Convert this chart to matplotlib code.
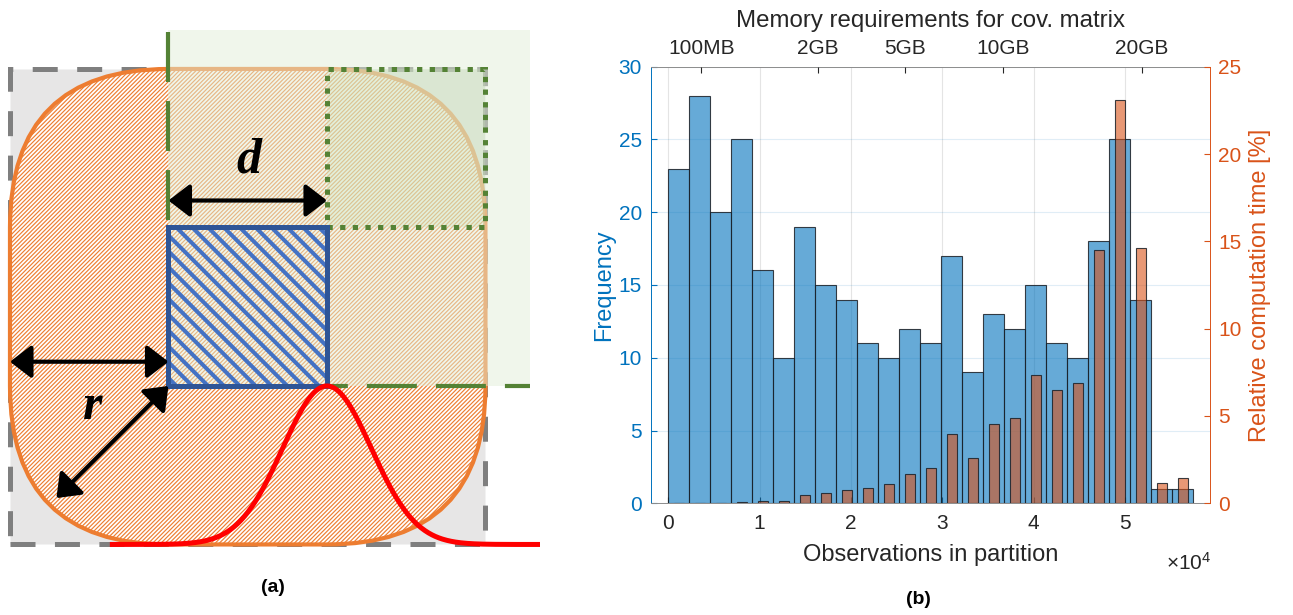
import numpy as np
import matplotlib.pyplot as plt
from matplotlib.patches import Rectangle, FancyBboxPatch

plt.rcParams['font.family'] = ['Liberation Sans', 'DejaVu Sans']
plt.rcParams['mathtext.fontset'] = 'custom'
plt.rcParams['mathtext.rm'] = 'Liberation Sans'
plt.rcParams['lines.scale_dashes'] = False
plt.rcParams['hatch.linewidth'] = 0.85

# ---- (b) histogram of partition sizes
bin_width = 2300
freq = [23, 28, 20, 25, 16, 10, 19, 15, 14, 11, 10, 12, 11,
        17, 9, 13, 12, 15, 11, 10, 18, 25, 14, 1, 1]
# share of total computation time per bin [%]
rel_time = [0, 0, 0.02, 0.08, 0.11, 0.11, 0.46, 0.57, 0.77, 0.86, 1.11, 1.70, 2.0,
            3.95, 2.58, 4.54, 4.89, 7.37, 6.49, 6.87, 14.49, 23.1, 14.64, 1.15, 1.43]
x_ticks = [0, 1, 2, 3, 4, 5]
mem_labels = ['100MB', '2GB', '5GB', '10GB', '20GB']
mem_bytes = [100 * 2**20, 2 * 2**30, 5 * 2**30, 10 * 2**30, 20 * 2**30]

# ---- (a) sketch: core square of side d, buffer radius r
d = 1.0
r = 1.0
sigma = 0.28

BLUE = '#0072BD'
ORANGE = '#D95319'

fig = plt.figure(figsize=(12.93, 6.15), dpi=100)

# ================= (a) =================
ax = fig.add_axes([0, 0, 540 / 1293, 1])
ax.set_xlim(-1.063, 2.344)
ax.set_ylim(-1.445, 2.435)
ax.axis('off')

# bounding box of the buffered area
ax.add_patch(Rectangle((-r, -r), d + 2 * r, d + 2 * r, fc='#E7E6E6', ec='#7F7F7F',
                       lw=3.6, ls=(0, (18, 14)), zorder=1))
# buffered area (square grown by r)
ax.add_patch(FancyBboxPatch((0, 0), d, d, boxstyle=f'round,pad={r},rounding_size={r}',
                            fc='white', ec='#ED7D31', hatch='////////', lw=3, zorder=2))
# quadrant already covered by neighbours
ax.add_patch(Rectangle((0, 0), 2.28, 2.246, fc='#E2EFD9', alpha=0.5, lw=0, zorder=3))
ax.add_patch(Rectangle((d, d), r, r, fc='#C5E0B4', alpha=0.3, lw=0, zorder=4))
ax.add_patch(Rectangle((d, d), r, r, fill=False, ec='#548235', lw=3.6,
                       ls=(0, (3.8, 5.3)), zorder=5))

# core square with thick blue stripes
core = Rectangle((0, 0), d, d, fill=False, lw=0, zorder=6)
ax.add_patch(core)
for c in np.arange(0.05, 2 * d, 0.1):
    ln, = ax.plot([c - d, c], [d, 0], color='#4472C4', lw=2.9, zorder=6,
                  solid_capstyle='butt')
    ln.set_clip_path(core)
ax.add_patch(Rectangle((0, 0), d, d, fill=False, ec='#2F5597', lw=3.6, zorder=7))

# partition borders
ax.plot([0, 0], [2.235, d], color='#548235', lw=3, ls=(0, (36, 13.7)), zorder=8)
ax.plot([d, 2.28], [0, 0], color='#548235', lw=3, ls=(21, (36, 13.7)), zorder=8)

# weighting kernel
xs = np.linspace(-0.37, 2.4, 500)
ax.plot(xs, -r + r * np.exp(-(xs - d) ** 2 / (2 * sigma ** 2)), color='red', lw=3.6,
        zorder=9, solid_capstyle='butt')

arrow = dict(arrowstyle='<|-|>,head_length=0.65,head_width=0.5', mutation_scale=20,
             lw=3, color='black', shrinkA=0, shrinkB=0)
ax.annotate('', xy=(d, 1.17), xytext=(0, 1.17), arrowprops=arrow, zorder=10)
ax.annotate('', xy=(0, 0.153), xytext=(-r, 0.153), arrowprops=arrow, zorder=10)
ax.annotate('', xy=(0, 0), xytext=(-r / np.sqrt(2), -r / np.sqrt(2)),
            arrowprops=arrow, zorder=10)
ax.text(0.51, 1.42, 'd', family='Liberation Serif', weight='bold', style='italic',
        fontsize=36, ha='center', va='center', zorder=11)
ax.text(-0.48, -0.13, 'r', family='Liberation Serif', weight='bold', style='italic',
        fontsize=36, ha='center', va='center', zorder=11)

fig.text(273 / 1293, 1 - 588 / 615, '(a)', weight='bold', fontsize=14,
         ha='center', va='center')

# ================= (b) =================
axb = fig.add_axes([651 / 1293, 1 - 503.3 / 615, 559 / 1293, 436.6 / 615])
edges = np.arange(len(freq) + 1) * bin_width
centers = edges[:-1] + bin_width / 2
edge_col = (0.1, 0.12, 0.15, 0.85)

axb.bar(edges[:-1], freq, width=bin_width, align='edge',
        facecolor=(0, 0.447, 0.741, 0.6), edgecolor=edge_col, lw=0.8, zorder=2)
axb.set_xlim(-1894, 59310)
axb.set_ylim(0, 30)
axb.set_yticks(range(0, 31, 5))
axb.set_xticks([t * 1e4 for t in x_ticks])
axb.set_xticklabels([str(t) for t in x_ticks])
axb.set_axisbelow(True)
axb.xaxis.grid(True, color='#262626', alpha=0.12, lw=0.8)
axb.yaxis.grid(True, color=BLUE, alpha=0.12, lw=0.8)

axb.tick_params(axis='x', direction='in', length=4, top=True, color='#262626',
                labelcolor='#262626', labelsize=15, pad=8)
axb.tick_params(axis='y', direction='in', length=4, color=BLUE, labelcolor=BLUE,
                labelsize=15, pad=6.5)
for s in ('top', 'bottom'):
    axb.spines[s].set_color('#8c8c8c')
    axb.spines[s].set_linewidth(0.7)
axb.spines['left'].set_color(BLUE)
axb.spines['left'].set_linewidth(0.7)
axb.spines['right'].set_visible(False)

axb.set_xlabel('Observations in partition', fontsize=17, color='#262626')
axb.xaxis.set_label_coords(0.5, -0.094)
axb.set_ylabel('Frequency', fontsize=17, color=BLUE)
axb.yaxis.set_label_coords(-0.064, 0.5)
axb.text(1.003, -0.137, r'$\times\mathregular{10^{4}}$', transform=axb.transAxes,
         fontsize=15, color='#262626', ha='right', va='center')

# computation time on the right axis
axr = axb.twinx()
axr.bar(centers, rel_time, width=bin_width / 2, facecolor=(0.85, 0.325, 0.098, 0.6),
        edgecolor=edge_col, lw=0.8, zorder=3)
axr.set_ylim(0, 25)
axr.set_yticks(range(0, 26, 5))
axr.tick_params(axis='y', direction='in', length=4, color=ORANGE, labelcolor=ORANGE,
                labelsize=15, pad=5.8)
for s in ('top', 'bottom', 'left'):
    axr.spines[s].set_visible(False)
axr.spines['right'].set_color(ORANGE)
axr.spines['right'].set_linewidth(0.7)
axr.set_ylabel('Relative computation time [%]', fontsize=17, color=ORANGE)
axr.yaxis.set_label_coords(1.07, 0.5)

# memory of an n x n double covariance matrix on the top axis
axm = axb.twiny()
axm.set_xlim(axb.get_xlim())
axm.set_xticks([np.sqrt(b / 8) for b in mem_bytes])
axm.set_xticklabels(mem_labels)
axm.tick_params(axis='x', direction='in', length=4, color='#262626',
                labelcolor='#262626', labelsize=15, pad=6)
for s in axm.spines.values():
    s.set_visible(False)
axm.set_xlabel('Memory requirements for cov. matrix', fontsize=17.3, color='#262626')
axm.xaxis.set_label_coords(0.5, 1.09)

fig.text(918 / 1293, 1 - 600 / 615, '(b)', weight='bold', fontsize=14,
         ha='center', va='center')

fig.savefig('out.png', dpi=100)
